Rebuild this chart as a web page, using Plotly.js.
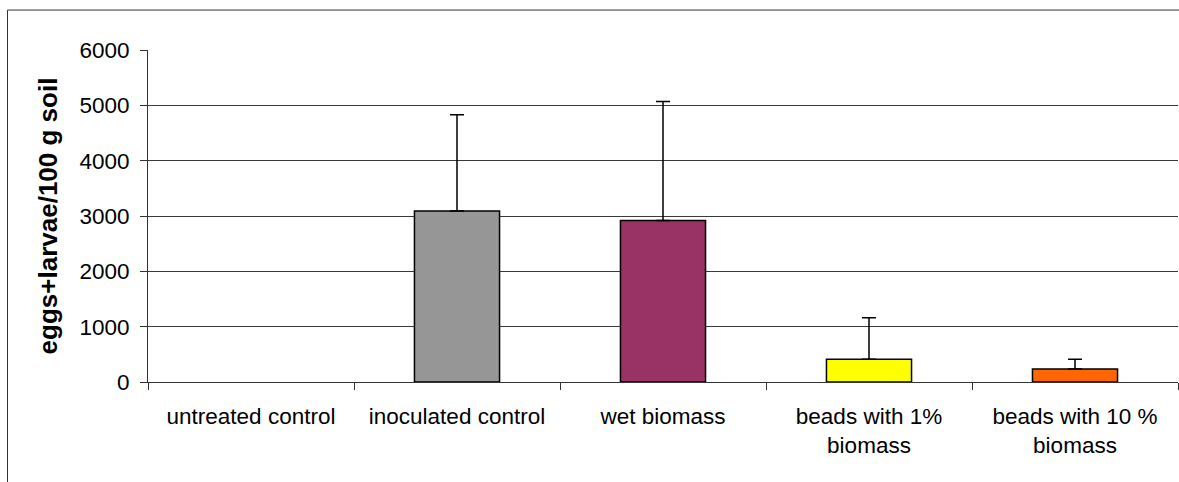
<!DOCTYPE html>
<html>
<head>
<meta charset="utf-8">
<script src="https://cdn.plot.ly/plotly-3.0.1.min.js"></script>
<style>html,body{margin:0;padding:0;background:#fff;}#chart{width:1179px;height:482px;}</style>
</head>
<body>
<div id="chart"></div>
<script>
const categories = ["untreated control", "inoculated control", "wet biomass", "beads with 1%<br>biomass", "beads with 10 %<br>biomass"];
// untreated control: no eggs/larvae found (no bar drawn)
const values = [null, 3090, 2920, 410, 235];
const errorsPlus = [null, 1740, 2150, 750, 175];
const errorsMinus = [null, 0, 0, 0, 0];
const barColors = ["rgba(0,0,0,0)", "#969696", "#993366", "#FFFF00", "#FF6600"];
const barLineWidths = [0, 1.5, 1.5, 1.5, 1.5];
const yTicks = [0, 1000, 2000, 3000, 4000, 5000, 6000];

const W = 1179, H = 482, L = 148, R = 1, T = 49.5, B = 100;
const pw = W - L - R, ph = H - T - B;
const px = v => (v - L) / pw;
const py = v => (H - B - v) / ph;

const trace = {
  type: "bar",
  x: categories,
  y: values,
  marker: {color: barColors, line: {color: "#000", width: barLineWidths}},
  error_y: {type: "data", symmetric: false, array: errorsPlus, arrayminus: errorsMinus, color: "#000", thickness: 1.5, width: 7},
  hoverinfo: "none"
};

const layout = {
  width: W, height: H,
  margin: {l: L, r: R, t: T, b: B},
  paper_bgcolor: "#fff", plot_bgcolor: "#fff",
  showlegend: false,
  bargap: 0.587,
  font: {family: "Liberation Sans, Arial, sans-serif", color: "#000"},
  xaxis: {
    type: "category",
    categoryarray: categories, categoryorder: "array",
    tickson: "boundaries",
    ticks: "outside", ticklen: 7, tickcolor: "#333", tickwidth: 1,
    showline: true, linecolor: "#333", linewidth: 1,
    showgrid: false,
    tickfont: {size: 22.5, family: "Liberation Sans, Arial, sans-serif"},
    ticklabelstandoff: 14,
    range: [-0.5, 4.5]
  },
  yaxis: {
    range: [0, 6000],
    tickvals: yTicks,
    ticktext: yTicks.map(String),
    ticks: "outside", ticklen: 7, tickcolor: "#333",
    showline: true, linecolor: "#333", linewidth: 1,
    showgrid: true, gridcolor: "#3a3a3a", gridwidth: 1,
    zeroline: false,
    tickfont: {size: 22.5, family: "Liberation Sans, Arial, sans-serif"},
    ticklabelstandoff: 6,
    title: {text: "<b>eggs+larvae/100 g soil</b>", font: {size: 26, family: "Liberation Sans, Arial, sans-serif"}, standoff: 14}
  },
  shapes: [
    {type: "rect", xref: "paper", yref: "paper", x0: px(7.5), x1: px(1190), y0: py(9.5), y1: py(500), line: {color: "#333", width: 1}, layer: "below"}
  ]
};

Plotly.newPlot("chart", [trace], layout, {displayModeBar: false, staticPlot: true});
</script>
</body>
</html>
